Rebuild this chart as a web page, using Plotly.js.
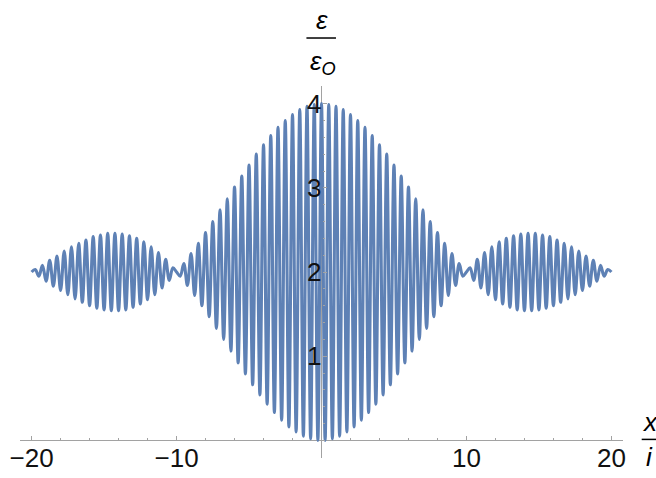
<!DOCTYPE html>
<html>
<head>
<meta charset="utf-8">
<script src="https://cdn.plot.ly/plotly-3.0.1.min.js"></script>
<style>
  html, body { margin: 0; padding: 0; background: #fff; }
  #chart { width: 656px; height: 478px; }
</style>
</head>
<body>
<div id="chart"></div>
<script>
// Sample positions x/i: successive maxima and minima of the fringe pattern
const xPos = [
  -20, -19.75, -19.5, -19.25, -19, -18.75, -18.5, -18.25, -18, -17.75,
  -17.5, -17.25, -17, -16.75, -16.5, -16.25, -16, -15.75, -15.5, -15.25,
  -15, -14.75, -14.5, -14.25, -14, -13.75, -13.5, -13.25, -13, -12.75,
  -12.5, -12.25, -12, -11.75, -11.5, -11.25, -11, -10.75, -10.5, -10.25,
  -10, -9.75, -9.5, -9.25, -9, -8.75, -8.5, -8.25, -8, -7.75,
  -7.5, -7.25, -7, -6.75, -6.5, -6.25, -6, -5.75, -5.5, -5.25,
  -5, -4.75, -4.5, -4.25, -4, -3.75, -3.5, -3.25, -3, -2.75,
  -2.5, -2.25, -2, -1.75, -1.5, -1.25, -1, -0.75, -0.5, -0.25,
  0,
  0.25, 0.5, 0.75, 1, 1.25, 1.5, 1.75, 2, 2.25, 2.5,
  2.75, 3, 3.25, 3.5, 3.75, 4, 4.25, 4.5, 4.75, 5,
  5.25, 5.5, 5.75, 6, 6.25, 6.5, 6.75, 7, 7.25, 7.5,
  7.75, 8, 8.25, 8.5, 8.75, 9, 9.25, 9.5, 9.75, 10,
  10.25, 10.5, 10.75, 11, 11.25, 11.5, 11.75, 12, 12.25, 12.5,
  12.75, 13, 13.25, 13.5, 13.75, 14, 14.25, 14.5, 14.75, 15,
  15.25, 15.5, 15.75, 16, 16.25, 16.5, 16.75, 17, 17.25, 17.5,
  17.75, 18, 18.25, 18.5, 18.75, 19, 19.25, 19.5, 19.75, 20
];

// ε/ε0 at each of those positions
const epsRatio = [
  2.00, 2.03, 1.95, 2.08, 1.89, 2.14, 1.83, 2.19, 1.78, 2.25,
  1.73, 2.30, 1.68, 2.34, 1.64, 2.38, 1.60, 2.42, 1.57, 2.44,
  1.55, 2.46, 1.54, 2.46, 1.54, 2.45, 1.55, 2.43, 1.58, 2.40,
  1.62, 2.36, 1.67, 2.30, 1.73, 2.23, 1.81, 2.15, 1.90, 2.05,
  2.00, 1.95, 2.10, 1.84, 2.22, 1.72, 2.34, 1.60, 2.47, 1.47,
  2.60, 1.33, 2.74, 1.20, 2.87, 1.06, 3.01, 0.92, 3.14, 0.79,
  3.27, 0.66, 3.40, 0.54, 3.51, 0.43, 3.62, 0.33, 3.72, 0.24,
  3.80, 0.16, 3.87, 0.10, 3.93, 0.05, 3.97, 0.02, 3.99, 0.00,
  4.00,
  0.00, 3.99, 0.02, 3.97, 0.05, 3.93, 0.10, 3.87, 0.16, 3.80,
  0.24, 3.72, 0.33, 3.62, 0.43, 3.51, 0.54, 3.40, 0.66, 3.27,
  0.79, 3.14, 0.92, 3.01, 1.06, 2.87, 1.20, 2.74, 1.33, 2.60,
  1.47, 2.47, 1.60, 2.34, 1.72, 2.22, 1.84, 2.10, 1.95, 2.00,
  2.05, 1.90, 2.15, 1.81, 2.23, 1.73, 2.30, 1.67, 2.36, 1.62,
  2.40, 1.58, 2.43, 1.55, 2.45, 1.54, 2.46, 1.54, 2.46, 1.55,
  2.44, 1.57, 2.42, 1.60, 2.38, 1.64, 2.34, 1.68, 2.30, 1.73,
  2.25, 1.78, 2.19, 1.83, 2.14, 1.89, 2.08, 1.95, 2.03, 2.00
];

// Axis tick labels
const xTickVals = [-20, -10, 10, 20];
const xTickText = ['\u221220', '\u221210', '10', '20'];
const yTickVals = [1, 2, 3, 4];
const yTickText = ['1', '2', '3', '4'];

const axisGray = '#a2a2a2';
const fontFamily = 'Liberation Sans, Arial, sans-serif';
const labelFont = { family: fontFamily, size: 26, color: '#111' };
const titleFont = { family: fontFamily, size: 26, color: '#000' };

const trace = {
  x: xPos,
  y: epsRatio,
  type: 'scatter',
  mode: 'lines',
  line: { color: '#5E81B5', width: 3.1, shape: 'spline', smoothing: 1 },
  hoverinfo: 'skip'
};

const layout = {
  width: 656,
  height: 478,
  margin: { l: 20, r: 33, t: 86, b: 20, pad: 0 },
  paper_bgcolor: '#fff',
  plot_bgcolor: '#fff',
  showlegend: false,
  xaxis: {
    range: [-20.8, 20.8],
    anchor: 'free',
    position: 0.0475,
    showgrid: false,
    showline: false,
    zeroline: true,
    zerolinecolor: axisGray,
    zerolinewidth: 1,
    tickmode: 'array',
    tickvals: xTickVals,
    ticktext: xTickText,
    ticks: 'inside',
    ticklen: 4.5,
    tickwidth: 1,
    tickcolor: axisGray,
    tickfont: labelFont,
    minor: { tickmode: 'linear', tick0: 0, dtick: 2, ticks: 'inside', ticklen: 2.5, tickwidth: 1, tickcolor: axisGray, showgrid: false }
  },
  yaxis: {
    range: [-0.21, 4.21],
    anchor: 'free',
    position: 0.5,
    showgrid: false,
    showline: false,
    zeroline: true,
    zerolinecolor: axisGray,
    zerolinewidth: 1,
    tickmode: 'array',
    tickvals: yTickVals,
    ticktext: yTickText,
    ticks: 'inside',
    ticklen: 4.5,
    tickwidth: 1,
    tickcolor: axisGray,
    tickfont: labelFont,
    minor: { tickmode: 'linear', tick0: 0, dtick: 0.2, ticks: 'inside', ticklen: 2.5, tickwidth: 1, tickcolor: axisGray, showgrid: false }
  },
  shapes: [
    // fraction bars of the axis titles
    { type: 'line', xref: 'paper', yref: 'paper', x0: 0.475, x1: 0.524, y0: 1.129, y1: 1.129, line: { color: '#000', width: 1.5 } },
    { type: 'line', xref: 'paper', yref: 'paper', x0: 1.031, x1: 1.056, y0: 0.05, y1: 0.05, line: { color: '#000', width: 1.5 } }
  ],
  annotations: [
    { xref: 'paper', yref: 'paper', x: 0.5, y: 1.133, xanchor: 'center', yanchor: 'bottom', showarrow: false,
      text: '<i>ε</i>', font: titleFont },
    { xref: 'paper', yref: 'paper', x: 0.503, y: 1.114, xanchor: 'center', yanchor: 'top', showarrow: false,
      text: '<i>ε</i><sub><i>O</i></sub>', font: titleFont },
    { xref: 'paper', yref: 'paper', x: 1.044, y: 0.052, xanchor: 'center', yanchor: 'bottom', showarrow: false,
      text: '<i>x</i>', font: titleFont },
    { xref: 'paper', yref: 'paper', x: 1.044, y: 0.048, xanchor: 'center', yanchor: 'top', showarrow: false,
      text: '<i>i</i>', font: titleFont }
  ]
};

Plotly.newPlot('chart', [trace], layout, { displayModeBar: false, staticPlot: true });
</script>
</body>
</html>
